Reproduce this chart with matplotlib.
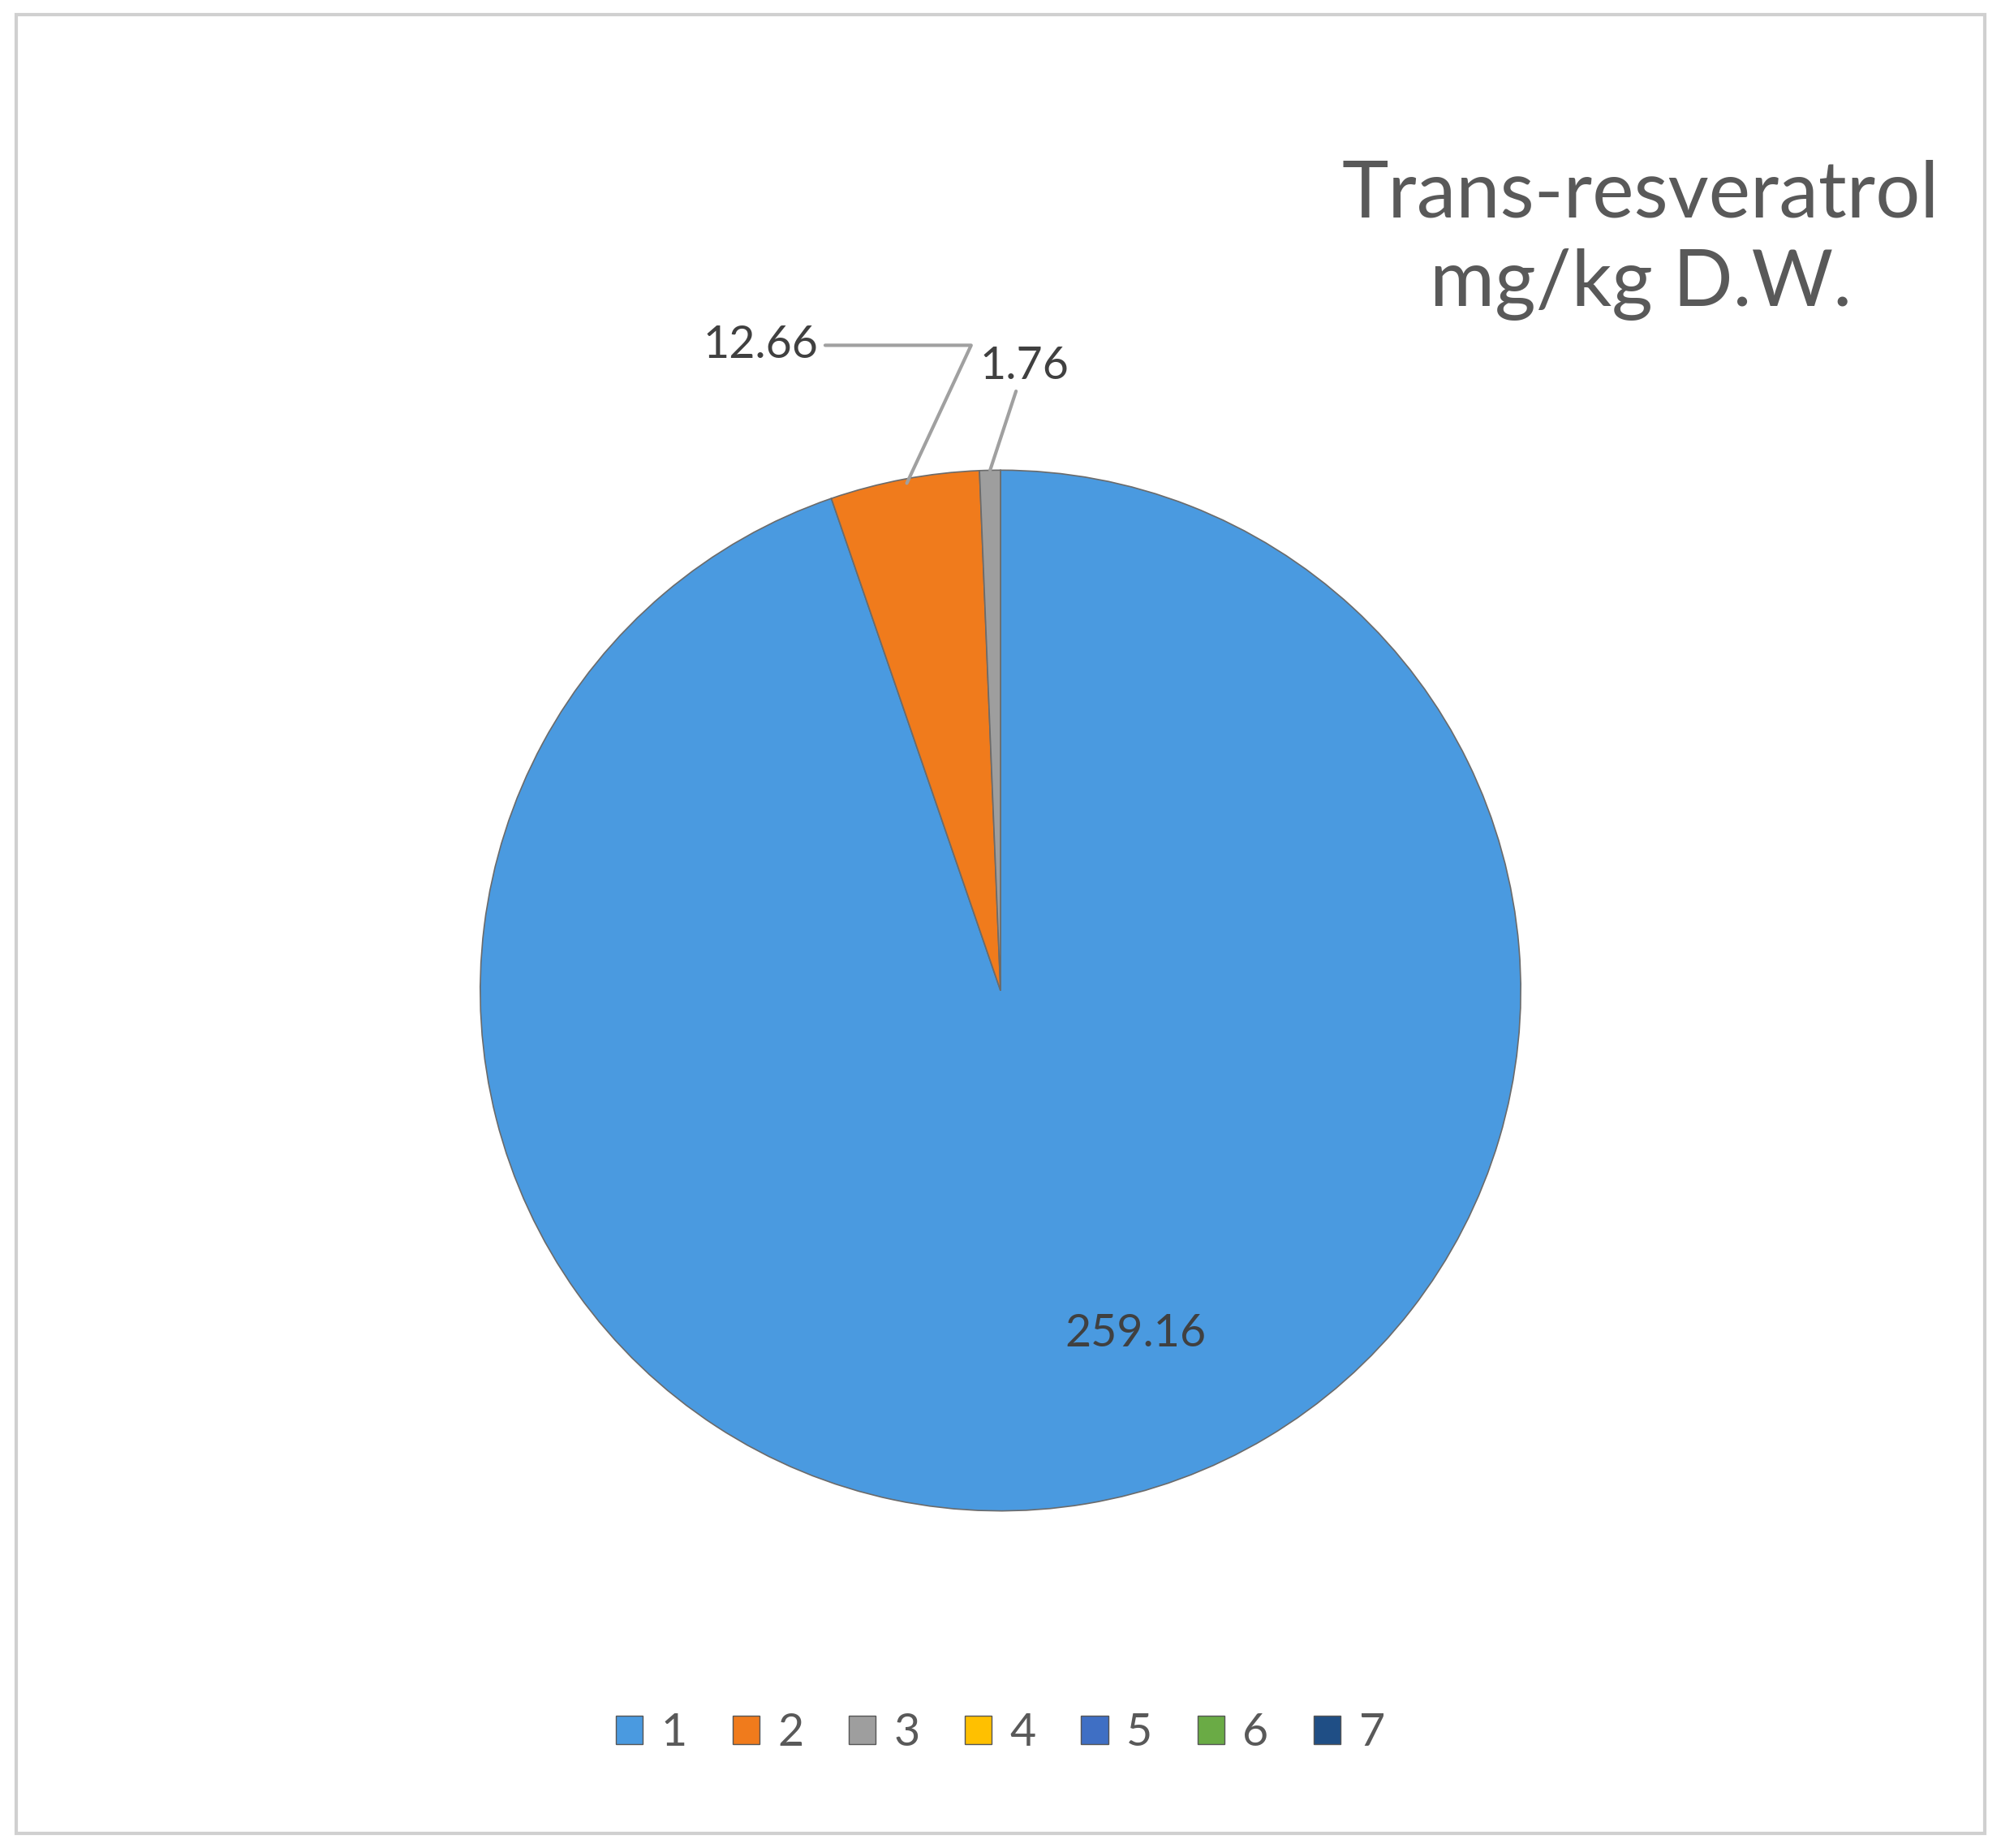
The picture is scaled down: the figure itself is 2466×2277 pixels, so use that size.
import matplotlib.pyplot as plt
from matplotlib.patches import Rectangle, Patch

plt.rcParams['font.family'] = ['Lato', 'DejaVu Sans']

labels = ["1", "2", "3", "4", "5", "6", "7"]
values = [259.16, 12.66, 1.76, 0, 0, 0, 0]
colors = ["#4a9ae0", "#f07b1c", "#9e9e9e", "#ffc000", "#3f6fc4", "#6aab45", "#1f4e85"]

fig = plt.figure(figsize=(24.66, 22.77), dpi=100)
fig.patches.append(Rectangle((0.008, 0.008), 0.984, 0.984, transform=fig.transFigure,
                             fill=False, edgecolor="#d0d0d0", linewidth=3))

ax = fig.add_axes([0.24, 0.18, 0.52, 0.568])
nz = [v for v in values if v > 0]
wedges, _ = ax.pie(nz, colors=colors[:len(nz)], startangle=90, counterclock=False,
                   wedgeprops=dict(edgecolor="#6b6b6b", linewidth=1.2))
ax.set_aspect("equal")
ax.set_xlim(-1.0, 1.0)
ax.set_ylim(-1.0, 1.0)

tc = "#404040"
ax.text(0.26, -0.66, "259.16", fontsize=40, color=tc, ha="center", va="center")
ax.annotate("12.66", xy=(-0.18, 0.975), xytext=(-0.35, 1.24), fontsize=40, color=tc,
            ha="right", va="center", annotation_clip=False,
            arrowprops=dict(arrowstyle="-", color="#a0a0a0", lw=3, shrinkA=4, shrinkB=0,
                            connectionstyle="angle,angleA=0,angleB=65,rad=0"))
ax.annotate("1.76", xy=(-0.02, 1.0), xytext=(-0.04, 1.2), fontsize=40, color=tc,
            ha="left", va="center", annotation_clip=False,
            arrowprops=dict(arrowstyle="-", color="#a0a0a0", lw=3, shrinkB=0))

fig.text(0.82, 0.87, "Trans-resveratrol\nmg/kg D.W.", fontsize=70, color="#595959",
         ha="center", va="center", linespacing=1.3)

handles = [Patch(facecolor=c, edgecolor="#555555") for c in colors]
fig.legend(handles, labels, loc="center", bbox_to_anchor=(0.5, 0.062), ncol=7,
           frameon=False, fontsize=40, labelcolor="#595959",
           handlelength=0.6, handleheight=0.6, columnspacing=1.0, handletextpad=0.4)

fig.savefig("out.png", dpi=100, facecolor="white")
